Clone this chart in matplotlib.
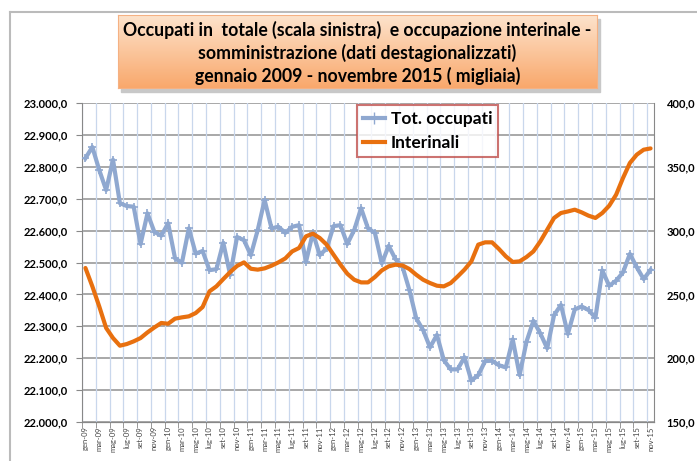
import numpy as np
import matplotlib
matplotlib.use("Agg")
import matplotlib.pyplot as plt
from matplotlib.lines import Line2D
from matplotlib.patches import Rectangle
from matplotlib.colors import LinearSegmentedColormap

plt.rcParams['font.family'] = ['Lato', 'DejaVu Sans']

# months gen-09 .. nov-15
mesi = ['gen', 'feb', 'mar', 'apr', 'mag', 'giu', 'lug', 'ago', 'set', 'ott', 'nov', 'dic']
labels = [f"{mesi[i % 12]}-{9 + i // 12:02d}" for i in range(83)]

# occupati totali (left axis, migliaia)
occupati = [22827, 22862, 22790, 22727, 22822, 22686, 22677, 22675, 22558, 22654,
            22596, 22584, 22623, 22513, 22499, 22607, 22528, 22536, 22476, 22479,
            22562, 22461, 22580, 22570, 22523, 22602, 22696, 22607, 22612, 22593,
            22612, 22617, 22502, 22593, 22523, 22544, 22614, 22617, 22558, 22602,
            22670, 22607, 22593, 22497, 22552, 22510, 22487, 22414, 22325, 22288,
            22234, 22273, 22194, 22165, 22165, 22203, 22130, 22147, 22191, 22192,
            22178, 22171, 22259, 22147, 22252, 22317, 22278, 22231, 22335, 22367,
            22276, 22353, 22362, 22351, 22327, 22475, 22427, 22443, 22469, 22527,
            22485, 22448, 22477]

# interinali (right axis, migliaia)
interinali = [270.7, 256.3, 240.6, 223.7, 215.8, 209.8, 211.1, 213.2, 215.8, 220.2,
              224.1, 227.6, 227.0, 231.0, 232.0, 232.8, 235.4, 240.1, 252.4, 256.3,
              262.0, 267.5, 272.3, 275.1, 270.1, 269.4, 270.4, 272.5, 275.1, 278.2,
              283.7, 286.4, 295.5, 297.6, 294.2, 289.0, 281.1, 273.3, 266.2, 261.5,
              259.4, 259.4, 263.6, 268.8, 272.0, 273.3, 272.7, 269.9, 265.4, 261.5,
              258.9, 256.8, 256.3, 258.9, 264.0, 269.4, 275.9, 289.0, 290.8, 290.8,
              285.6, 279.8, 275.4, 275.9, 279.3, 283.7, 291.5, 300.7, 309.9, 313.8,
              315.0, 316.4, 314.3, 311.7, 309.9, 313.8, 319.5, 328.1, 341.2, 353.0,
              359.5, 363.4, 364.4]

blu = '#8FA8D0'
arancio = '#E8700F'
x = np.arange(len(labels))

fig = plt.figure(figsize=(6.97, 4.61), dpi=100)
ax = fig.add_axes([82 / 697, 1 - 422 / 461, (654 - 82) / 697, (422 - 103) / 461])
ax2 = ax.twinx()

ax.plot(x, occupati, color=blu, lw=3, marker='+', ms=6, mew=1.2, zorder=3)
ax2.plot(x, interinali, color=arancio, lw=3, solid_capstyle='round', zorder=3)

ax.set_xlim(-0.5, 82.5)
ax.set_ylim(22000, 23000)
ax2.set_ylim(150, 400)
ax.set_yticks(np.arange(22000, 23001, 100))
ax2.set_yticks(np.arange(150, 401, 50))

fmt_l = [f"{v:,.1f}".replace(',', 'X').replace('.', ',').replace('X', '.') for v in ax.get_yticks()]
ax.set_yticklabels(fmt_l, fontsize=8, fontweight='bold')
ax2.set_yticklabels([f"{v:.1f}".replace('.', ',') for v in ax2.get_yticks()], fontsize=8, fontweight='bold')

ax.set_xticks(x[::2])
ax.set_xticklabels(labels[::2], rotation=90, fontsize=5.5, color='#444444')
ax.set_xticks(np.arange(-0.5, 83, 2), minor=True)
ax.tick_params(axis='x', which='major', length=0, pad=3)
ax.tick_params(axis='x', which='minor', length=4, color='#888888')
ax.tick_params(axis='y', length=4, color='#888888', pad=6)
ax2.tick_params(axis='y', length=0, pad=9)

for v in np.arange(-0.5, 83, 2):
    ax.axvline(v, color='#C9D7EC', lw=0.9, zorder=1)
ax.grid(axis='y', color='#999999', lw=1.2, zorder=1)
ax.set_axisbelow(True)

for a in (ax, ax2):
    a.spines['top'].set_visible(False)
    a.spines['right'].set_visible(False)
    a.spines['left'].set_color('#888888')
    a.spines['bottom'].set_color('#888888')
ax2.spines['left'].set_visible(False)
ax.spines['right'].set_visible(True)
ax.spines['right'].set_color('#888888')

# legend
handles = [Line2D([], [], color=blu, lw=3, marker='+', ms=8),
           Line2D([], [], color=arancio, lw=3)]
leg = ax.legend(handles, ['Tot. occupati', 'Interinali'], loc='upper left',
                bbox_to_anchor=(273 / 572, 1.0), prop={'weight': 'bold', 'size': 12.5},
                frameon=True, fancybox=False, handlelength=1.3, handletextpad=0.3,
                borderpad=0.35, labelspacing=0.45, borderaxespad=0.1)
leg.get_frame().set_edgecolor('#C0504D')
leg.get_frame().set_linewidth(1.5)
leg.set_zorder(5)

# outer frame lines
fig.add_artist(Line2D([10 / 697, 1], [1 - 12 / 461] * 2, color='#BBBBBB', lw=1.5))
fig.add_artist(Line2D([10 / 697] * 2, [0, 1 - 12 / 461], color='#BBBBBB', lw=1.5))

# title box with gradient
tx0, tx1, ty0, ty1 = 118, 597, 15, 88
fig.add_artist(Rectangle((tx0 / 697 + 0.004, 1 - ty1 / 461 - 0.008), (tx1 - tx0) / 697,
                         (ty1 - ty0) / 461, color='#C8C8C8', zorder=0))
tax = fig.add_axes([tx0 / 697, 1 - ty1 / 461, (tx1 - tx0) / 697, (ty1 - ty0) / 461])
grad = np.linspace(0, 1, 100)[:, None]
cmap = LinearSegmentedColormap.from_list('t', ['#FDE3CC', '#F9A86C'])
tax.imshow(grad, aspect='auto', cmap=cmap, extent=[0, 1, 0, 1], origin='upper')
tax.set_xticks([])
tax.set_yticks([])
for s in tax.spines.values():
    s.set_color('#F5B183')
tax.text(0.5, 0.48, "Occupati in  totale (scala sinistra)  e occupazione interinale -\n"
         "somministrazione (dati destagionalizzati)\n"
         "gennaio 2009 - novembre 2015 ( migliaia)",
         ha='center', va='center', fontsize=12.7, fontweight='bold', linespacing=1.3,
         transform=tax.transAxes)

fig.savefig('out.png', dpi=100)
